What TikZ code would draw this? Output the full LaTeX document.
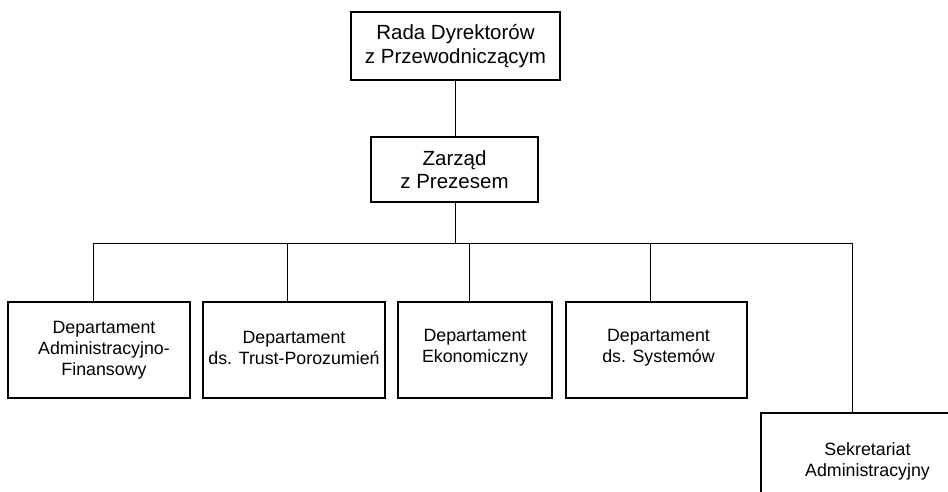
\documentclass[tikz,border=0pt]{standalone}
\usepackage{fontspec}
\setmainfont{Liberation Sans}
\begin{document}
\begin{tikzpicture}[x=1pt,y=-1pt,
  box/.style={draw=black,line width=2pt,inner sep=0pt,align=center},
  bigtext/.style={font=\fontsize{20.5}{23.5}\selectfont},
  dtext/.style={font=\fontsize{17.8}{21}\selectfont,align=center},
  conn/.style={draw=black,line width=1pt}]
\useasboundingbox (0,0) rectangle (948,492);
\fill[white] (0,0) rectangle (948,492);
\begin{scope}
\clip (0,0) rectangle (948,492);
\node[box,bigtext,minimum width=209pt,minimum height=68pt] (rada) at (455.5,46) {Rada Dyrektorów\\z Przewodniczącym};
\node[box,bigtext,minimum width=167pt,minimum height=65pt] (zarzad) at (454.5,169.5) {Zarząd\\z Prezesem};
\node[box,minimum width=182pt,minimum height=96pt,label={[dtext,xshift=5pt]center:Departament\\Administracyjno-\\Finansowy}] (d1) at (99,350) {};
\node[box,minimum width=182pt,minimum height=96pt,label={[dtext,yshift=2pt]center:Departament\\ds. Trust-Porozumień}] (d2) at (294,350) {};
\node[box,minimum width=154pt,minimum height=96pt,label={[dtext,yshift=2pt]center:Departament\\Ekonomiczny}] (d3) at (475,350) {};
\node[box,minimum width=181pt,minimum height=96pt,label={[dtext,xshift=2pt,yshift=2pt]center:Departament\\ds. Systemów}] (d4) at (656.5,350) {};
\node[box,minimum width=213pt,minimum height=96pt,label={[dtext]center:Sekretariat\\Administracyjny}] (sek) at (867.5,461) {};
\coordinate (j) at (455,243);
\draw[conn] ([xshift=-0.5pt]rada.south) -- ([xshift=-0.5pt]rada.south |- zarzad.north);
\draw[conn] ([xshift=0.5pt]zarzad.south) -- (j);
\draw[conn] ([xshift=-6pt]d1.north) |- (j);
\draw[conn] ([xshift=-7pt]d2.north) -- ([xshift=-7pt]d2.north |- j);
\draw[conn] ([xshift=-6pt]d3.north) -- ([xshift=-6pt]d3.north |- j);
\draw[conn] ([xshift=-6.5pt]d4.north) -- ([xshift=-6.5pt]d4.north |- j);
\draw[conn] ([xshift=92pt]sek.north west) |- (j);
\end{scope}
\end{tikzpicture}
\end{document}
